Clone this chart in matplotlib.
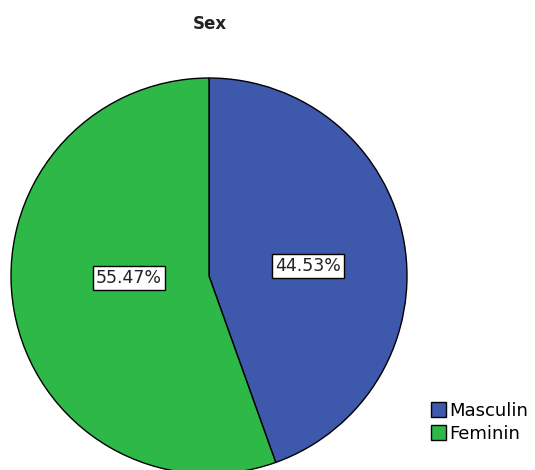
import matplotlib.pyplot as plt

labels = ["Masculin", "Feminin"]
values = [44.53, 55.47]
colors = ["#3E58AC", "#2EB848"]

fig = plt.figure(figsize=(5.35, 4.7), dpi=100)
ax = fig.add_axes([0, 0, 1, 1])

wedges, texts, autotexts = ax.pie(
    values, colors=colors, startangle=90, counterclock=False,
    center=(209, 194), radius=198, frame=True,
    autopct="%1.2f%%", pctdistance=0.48,
    wedgeprops=dict(edgecolor="black", linewidth=1),
    textprops=dict(fontsize=12.5, color="#222222"),
)
ax.set_xlim(0, 535)
ax.set_ylim(0, 470)
ax.set_aspect("equal")
ax.axis("off")

# SPSS puts the labels a bit off the slice middle
autotexts[0].set_position((308, 204))
autotexts[1].set_position((129, 192))
for t in autotexts:
    t.set_bbox(dict(facecolor="white", edgecolor="black", boxstyle="square,pad=0.2", linewidth=1))

ax.text(210, 446, "Sex", ha="center", va="center", fontsize=12, fontweight="bold", color="#222222")

leg = ax.legend(wedges, labels, loc="lower left", bbox_to_anchor=(431 / 535, 27 / 470),
                frameon=False, fontsize=13, handlelength=0.85, handleheight=0.9,
                handletextpad=0.15, labelspacing=0.3, borderaxespad=0, borderpad=0)

fig.savefig("out.png", dpi=100)
